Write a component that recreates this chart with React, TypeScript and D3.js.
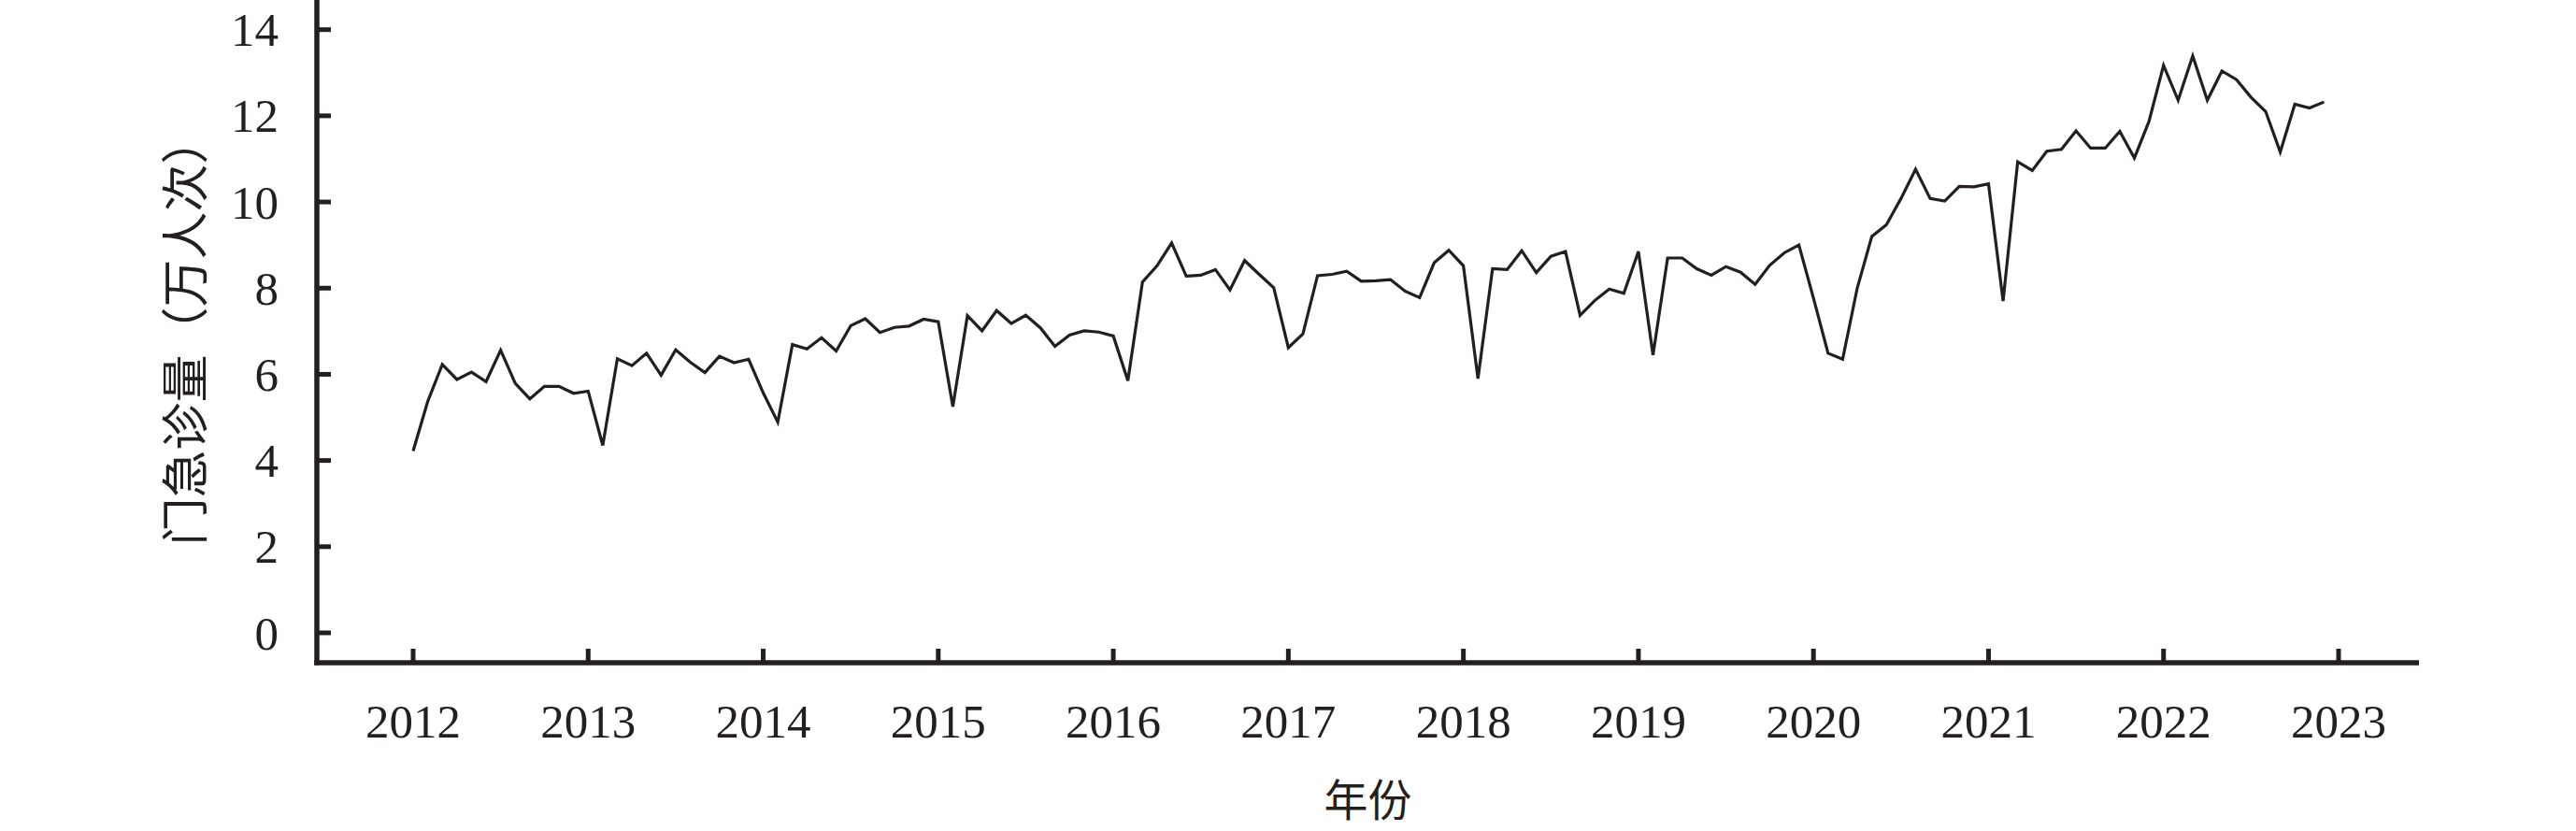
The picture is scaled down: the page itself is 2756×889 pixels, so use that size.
import React, { useEffect, useRef } from 'react';
import * as d3 from 'd3';

// monthly outpatient + emergency visits (10k), Jan 2012 .. Dec 2022
const startYear = 2012;
const values2012 = [4.22, 5.37, 6.23, 5.88, 6.05, 5.83, 6.56, 5.79, 5.43, 5.72, 5.72, 5.56];
const values2013 = [5.61, 4.35, 6.36, 6.2, 6.49, 5.98, 6.57, 6.28, 6.04, 6.42, 6.27, 6.35];
const values2014 = [5.57, 4.89, 6.69, 6.59, 6.85, 6.54, 7.13, 7.29, 6.97, 7.09, 7.12, 7.28];
const values2015 = [7.22, 5.25, 7.36, 7.01, 7.48, 7.18, 7.37, 7.08, 6.65, 6.91, 7.01, 6.98];
const values2016 = [6.89, 5.85, 8.14, 8.52, 9.05, 8.28, 8.3, 8.43, 7.96, 8.64, 8.32, 8.01];
const values2017 = [6.62, 6.94, 8.29, 8.32, 8.39, 8.16, 8.17, 8.2, 7.93, 7.78, 8.59, 8.88];
const values2018 = [8.52, 5.9, 8.45, 8.43, 8.87, 8.36, 8.74, 8.85, 7.37, 7.71, 7.98, 7.88];
const values2019 = [8.85, 6.45, 8.7, 8.7, 8.45, 8.3, 8.5, 8.37, 8.09, 8.53, 8.82, 9.0];
const values2020 = [7.77, 6.49, 6.35, 8.0, 9.2, 9.47, 10.08, 10.76, 10.08, 10.02, 10.36, 10.35];
const values2021 = [10.42, 7.7, 10.93, 10.73, 11.18, 11.22, 11.65, 11.25, 11.25, 11.64, 11.02, 11.87];
const values2022 = [13.17, 12.36, 13.39, 12.36, 13.04, 12.84, 12.43, 12.1, 11.16, 12.27, 12.18, 12.32];

const yearTicks = [2012, 2013, 2014, 2015, 2016, 2017, 2018, 2019, 2020, 2021, 2022, 2023];
const valueTicks = [0, 2, 4, 6, 8, 10, 12, 14];

const xTitle = '年份';
const yTitle = '门急诊量（万人次）';

const ink = '#231f20';
const latinFont = "'Liberation Serif', 'Times New Roman', serif";
const cjkFont = "'Noto Sans CJK SC', sans-serif";

const App = () => {
  const svgRef = useRef(null);

  useEffect(() => {
    const svg = d3.select(svgRef.current);
    svg.selectAll('*').remove();

    const series = [
      values2012, values2013, values2014, values2015, values2016, values2017,
      values2018, values2019, values2020, values2021, values2022,
    ].flat();
    const data = series.map((v, i) => ({ t: startYear + i / 12, v }));

    const x = d3.scaleLinear().domain([2012, 2023]).range([442, 2502]);
    const y = d3.scaleLinear().domain([0, 14]).range([677, 31.7]);

    const axisLeft = 339;
    const axisRight = 2588;
    const axisBottom = 709;

    const g = svg.append('g');

    // y axis line + ticks (ticks point inward)
    g.append('line')
      .attr('x1', axisLeft).attr('x2', axisLeft)
      .attr('y1', 0).attr('y2', axisBottom + 2.5)
      .attr('stroke', ink).attr('stroke-width', 5.5);

    g.selectAll('.ytick')
      .data(valueTicks)
      .enter().append('line')
      .attr('x1', axisLeft).attr('x2', axisLeft + 15)
      .attr('y1', d => y(d)).attr('y2', d => y(d))
      .attr('stroke', ink).attr('stroke-width', 5);

    g.selectAll('.ylabel')
      .data(valueTicks)
      .enter().append('text')
      .attr('x', 298)
      .attr('y', d => y(d) + 17.5)
      .attr('text-anchor', 'end')
      .attr('font-family', latinFont)
      .attr('font-size', 51)
      .attr('fill', ink)
      .text(d => d);

    // x axis line + ticks
    g.append('line')
      .attr('x1', axisLeft - 2.75).attr('x2', axisRight)
      .attr('y1', axisBottom).attr('y2', axisBottom)
      .attr('stroke', ink).attr('stroke-width', 5.5);

    g.selectAll('.xtick')
      .data(yearTicks)
      .enter().append('line')
      .attr('x1', d => x(d)).attr('x2', d => x(d))
      .attr('y1', axisBottom).attr('y2', axisBottom - 15)
      .attr('stroke', ink).attr('stroke-width', 5);

    g.selectAll('.xlabel')
      .data(yearTicks)
      .enter().append('text')
      .attr('x', d => x(d))
      .attr('y', 789)
      .attr('text-anchor', 'middle')
      .attr('font-family', latinFont)
      .attr('font-size', 51)
      .attr('fill', ink)
      .text(d => d);

    // titles
    g.append('text')
      .attr('x', (axisLeft + axisRight) / 2)
      .attr('y', 873)
      .attr('text-anchor', 'middle')
      .attr('font-family', cjkFont)
      .attr('font-size', 47)
      .attr('fill', ink)
      .text(xTitle);

    g.append('text')
      .attr('transform', 'translate(195,354) rotate(-90)')
      .attr('text-anchor', 'middle')
      .attr('dominant-baseline', 'central')
      .attr('font-family', cjkFont)
      .attr('font-size', 51)
      .attr('fill', ink)
      .text(yTitle);

    // the series
    const line = d3.line<any>()
      .x(d => x(d.t))
      .y(d => y(d.v));

    g.append('path')
      .datum(data)
      .attr('d', line)
      .attr('fill', 'none')
      .attr('stroke', ink)
      .attr('stroke-width', 3.2)
      .attr('stroke-linejoin', 'miter');
  }, []);

  return (
    <svg
      ref={svgRef}
      width={2756}
      height={889}
      style={{ position: 'absolute', left: 0, top: 0, background: '#fff' }}
    />
  );
};

export default App;
